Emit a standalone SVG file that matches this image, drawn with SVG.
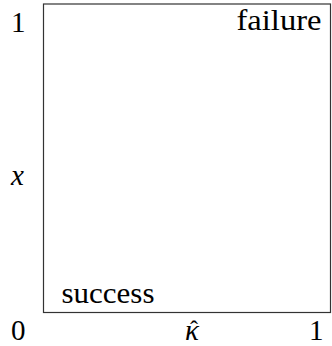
<svg xmlns="http://www.w3.org/2000/svg" width="332" height="346" viewBox="0 0 332 346">
<style>
text{font-family:'Liberation Serif','DejaVu Serif','Times New Roman',serif;font-size:29px;fill:#000}
.it{font-style:italic}
</style>
<rect width="332" height="346" fill="#fff"/>
<rect id="box" x="43.5" y="4" width="287" height="308.5" fill="none" stroke="#333" stroke-width="1.2"/>
<g id="labels">
<text x="11" y="31.5">1</text>
<text x="236.5" y="29.5" textLength="85" lengthAdjust="spacingAndGlyphs">failure</text>
<text class="it" x="11" y="185">x</text>
<text x="61.5" y="302.5" textLength="93" lengthAdjust="spacingAndGlyphs">success</text>
<text x="11" y="340">0</text>
<text class="it" x="185" y="340">κ<tspan x="190" y="337" font-style="normal" font-size="24">ˆ</tspan></text>
<text x="309" y="340">1</text>
</g>
</svg>
